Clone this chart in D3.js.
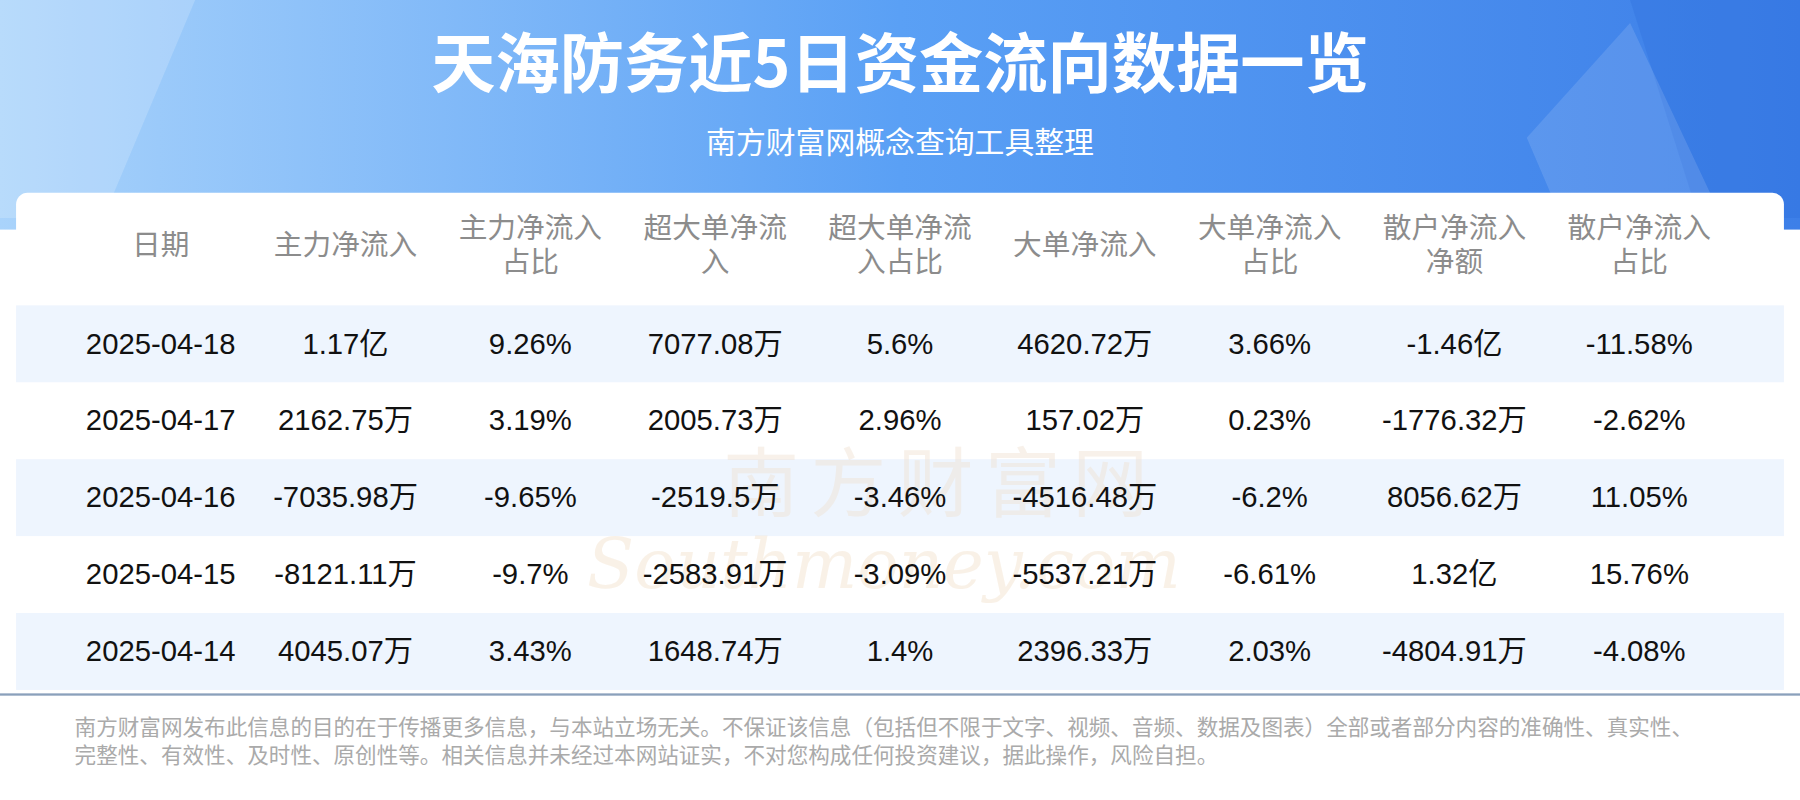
<!DOCTYPE html><html><head><meta charset="utf-8">
<script src="https://cdn.jsdelivr.net/npm/d3@7"></script>
<style>body{margin:0;overflow:hidden;background:#fff}</style></head><body>
<svg id="c" width="1800" height="800"></svg>
<script>
const title="天海防务近5日资金流向数据一览";
const subtitle="南方财富网概念查询工具整理";
const headers=[["日期"],["主力净流入"],["主力净流入","占比"],["超大单净流","入"],["超大单净流","入占比"],["大单净流入"],["大单净流入","占比"],["散户净流入","净额"],["散户净流入","占比"]];
const dates=["2025-04-18","2025-04-17","2025-04-16","2025-04-15","2025-04-14"];
const mainIn=["1.17亿","2162.75万","-7035.98万","-8121.11万","4045.07万"];
const mainPct=["9.26%","3.19%","-9.65%","-9.7%","3.43%"];
const superIn=["7077.08万","2005.73万","-2519.5万","-2583.91万","1648.74万"];
const superPct=["5.6%","2.96%","-3.46%","-3.09%","1.4%"];
const bigIn=["4620.72万","157.02万","-4516.48万","-5537.21万","2396.33万"];
const bigPct=["3.66%","0.23%","-6.2%","-6.61%","2.03%"];
const retailIn=["-1.46亿","-1776.32万","8056.62万","1.32亿","-4804.91万"];
const retailPct=["-11.58%","-2.62%","11.05%","15.76%","-4.08%"];
const footer=["南方财富网发布此信息的目的在于传播更多信息，与本站立场无关。不保证该信息（包括但不限于文字、视频、音频、数据及图表）全部或者部分内容的准确性、真实性、","完整性、有效性、及时性、原创性等。相关信息并未经过本网站证实，不对您构成任何投资建议，据此操作，风险自担。"];
const cols=[dates,mainIn,mainPct,superIn,superPct,bigIn,bigPct,retailIn,retailPct];
const W=1568,H=697;
const svg=d3.select("#c");
const defs=svg.append("defs");
const g1=defs.append("linearGradient").attr("id","bg").attr("x1",0).attr("x2",1).attr("y1",0).attr("y2",0);
g1.append("stop").attr("offset",0).attr("stop-color","#a9d3fb");
g1.append("stop").attr("offset",0.5).attr("stop-color","#5aa0f5");
g1.append("stop").attr("offset",1).attr("stop-color","#3d7fe8");
const g=svg.append("g").attr("transform",`scale(${1800/W})`);
g.append("rect").attr("width",W).attr("height",200).attr("fill","url(#bg)");
g.append("path").attr("d","M0,0 L170,0 L90,190 L0,190Z").attr("fill","#ffffff").attr("opacity",0.18);
g.append("path").attr("d","M1420,0 L1568,0 L1568,190 L1480,190Z").attr("fill","#2f6fdc").attr("opacity",0.35);
g.append("path").attr("d","M1330,120 L1420,20 L1500,190 L1360,190Z").attr("fill","#ffffff").attr("opacity",0.12);
g.append("text").attr("x",W/2).attr("y",76).attr("text-anchor","middle").attr("fill","#fff").attr("font-size",56).attr("font-weight","bold").attr("font-family","Noto Sans CJK SC").text(title);
g.append("text").attr("x",W/2).attr("y",133).attr("text-anchor","middle").attr("fill","#fff").attr("font-size",26).attr("font-family","Noto Sans CJK SC").text(subtitle);
g.append("rect").attr("x",14).attr("y",168).attr("width",1540).attr("height",480).attr("rx",10).attr("fill","#fff");
const x=d3.scalePoint().domain(d3.range(9)).range([140,1428]);
const y=d3.scaleLinear().domain([0,4]).range([299,567]);
dates.forEach((d,i)=>{if(i%2==0)g.append("rect").attr("x",14).attr("y",y(i)-33).attr("width",1540).attr("height",67).attr("fill","#eef5fe");});
// watermark
const wm=g.append("g").attr("opacity",0.45);
wm.append("text").attr("x",820).attr("y",445).attr("text-anchor","middle").attr("font-size",66).attr("fill","#f0e2d2").attr("font-family","Noto Sans CJK SC").attr("letter-spacing",10).text("南方财富网");
wm.append("text").attr("x",770).attr("y",512).attr("text-anchor","middle").attr("font-size",60).attr("font-style","italic").attr("fill","#f3e2cc").attr("font-family","DejaVu Serif").text("Southmoney.com");
headers.forEach((h,j)=>{h.forEach((t,k)=>{g.append("text").attr("x",x(j)).attr("y",h.length==1?222:207+k*30).attr("text-anchor","middle").attr("fill","#8c8c8c").attr("font-size",25).attr("font-family","Noto Sans CJK SC").text(t);});});
cols.forEach((c,j)=>c.forEach((v,i)=>{g.append("text").attr("x",x(j)).attr("y",y(i)+9).attr("text-anchor","middle").attr("fill","#111").attr("font-size",25.5).attr("font-family","Liberation Sans, Noto Sans CJK SC").text(v);}));
g.append("rect").attr("x",0).attr("y",604).attr("width",W).attr("height",2).attr("fill","#8aa0bb");
footer.forEach((t,i)=>g.append("text").attr("x",65).attr("y",640+i*25).attr("fill","#aaaaaa").attr("font-size",18.8).attr("font-family","Noto Sans CJK SC").text(t));
</script></body></html>
